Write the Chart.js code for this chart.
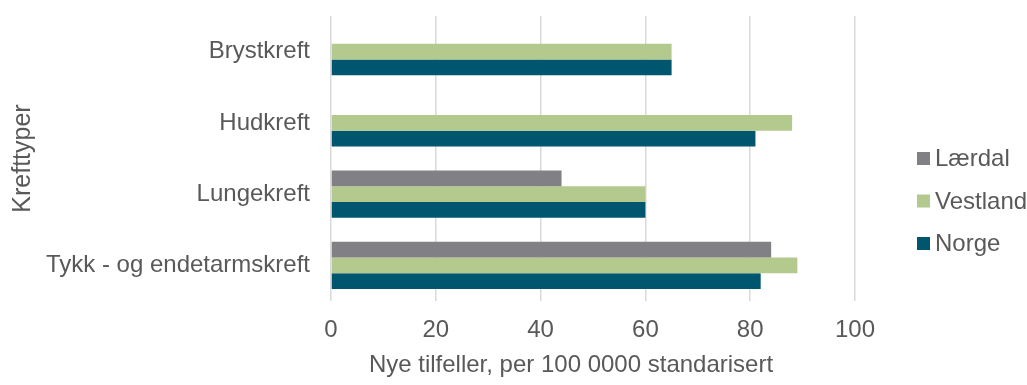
<!DOCTYPE html>
<html>
<head>
<meta charset="utf-8">
<script src="https://cdn.jsdelivr.net/npm/chart.js@4/dist/chart.umd.min.js"></script>
<style>
  html, body { margin: 0; padding: 0; background: #fff; }
  #wrap { width: 1027px; height: 385px; }
</style>
</head>
<body>
<div id="wrap"><canvas id="kreftChart"></canvas></div>
<script>
// Data
const categories = ['Brystkreft', 'Hudkreft', 'Lungekreft', 'Tykk - og endetarmskreft'];
const laerdal = [null, null, 44, 84];
const vestland = [65, 88, 60, 89];
const norge = [65, 81, 60, 82];
const seriesNames = ['Lærdal', 'Vestland', 'Norge'];
const xTicks = [0, 20, 40, 60, 80, 100];
const xTitle = 'Nye tilfeller, per 100 0000 standarisert';

const textColor = '#595959';
const fontFamily = 'Arial, "Liberation Sans", sans-serif';

// Legend and x title drawn by hand
const extras = {
  id: 'extras',
  afterDraw(chart) {
    const ctx = chart.ctx;
    ctx.save();
    ctx.font = '24px ' + fontFamily;
    ctx.textBaseline = 'middle';
    ctx.textAlign = 'left';
    chart.data.datasets.forEach((ds, i) => {
      const cy = 158.5 + i * 42.5;
      ctx.fillStyle = ds.backgroundColor;
      ctx.fillRect(917, cy - 6.5, 13, 13);
      ctx.fillStyle = textColor;
      ctx.fillText(ds.label, 935, cy + 1);
    });
    ctx.textAlign = 'center';
    ctx.fillText(xTitle, 571, 365);
    ctx.restore();
  }
};

const ctx = document.getElementById('kreftChart').getContext('2d');
const kreftChart = new Chart(ctx, {
  type: 'bar',
  data: {
    labels: categories,
    datasets: [
      { label: seriesNames[0], data: laerdal, backgroundColor: '#818085' },
      { label: seriesNames[1], data: vestland, backgroundColor: '#b3c98d' },
      { label: seriesNames[2], data: norge, backgroundColor: '#00556f' }
    ]
  },
  options: {
    indexAxis: 'y',
    responsive: true,
    maintainAspectRatio: false,
    animation: false,
    categoryPercentage: 0.66,
    barPercentage: 1.0,
    layout: { padding: { top: 16, right: 172, bottom: 0, left: 0 } },
    plugins: {
      legend: { display: false },
      tooltip: { enabled: false }
    },
    scales: {
      x: {
        min: 0,
        max: 100,
        afterBuildTicks: s => { s.ticks = xTicks.map(v => ({ value: v })); },
        afterFit: s => { s.height = 84; },
        grid: { color: '#d9d9d9', lineWidth: 1.5, drawTicks: false },
        border: { display: false },
        ticks: { color: textColor, font: { size: 24, family: fontFamily }, padding: 15 }
      },
      y: {
        afterFit: s => { s.width = 331; },
        grid: { display: false, drawTicks: true, tickLength: 21 },
        border: { display: false },
        ticks: { color: textColor, font: { size: 24, family: fontFamily }, padding: 0 },
        title: {
          display: true,
          text: 'Krefttyper',
          color: textColor,
          font: { size: 25, family: fontFamily },
          padding: { top: 8, bottom: 0 }
        }
      }
    }
  },
  plugins: [extras]
});
</script>
</body>
</html>
